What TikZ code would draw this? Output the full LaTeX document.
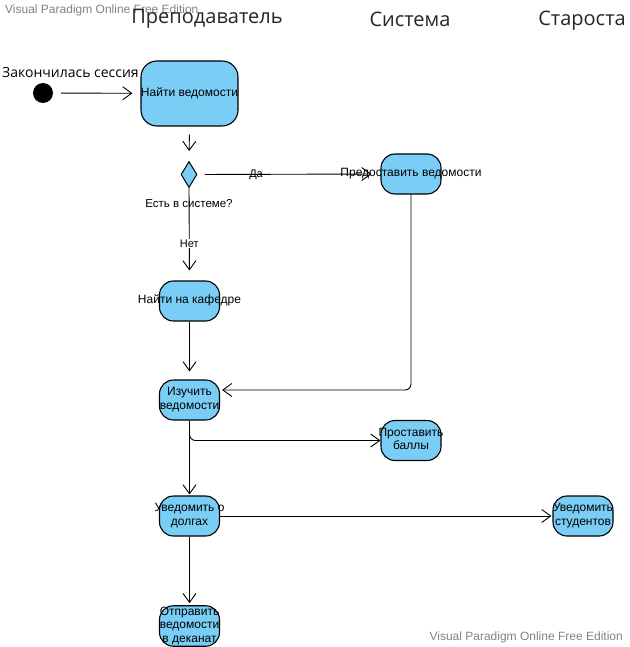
\documentclass[tikz,border=0pt]{standalone}
\usepackage{fontspec}
\setmainfont{Liberation Sans}
\newfontfamily\titlefont{Open Sans}
\usetikzlibrary{arrows.meta,shapes.geometric}
\definecolor{actfill}{RGB}{122,206,245}
\definecolor{wmgray}{RGB}{130,130,130}
\newcommand{\ovtext}[1]{\raisebox{-1.5pt}{\makebox[0pt][c]{\begin{tabular}{@{}c@{}}#1\end{tabular}}}}
\tikzset{
  act/.style={draw=black, fill=actfill, rounded corners=14pt, line width=1.1pt,
    inner sep=0pt, minimum width=60pt, minimum height=40pt,
    font=\fontsize{12}{13.5}\selectfont},
  bigact/.style={act, rounded corners=16pt, minimum width=97pt, minimum height=65pt},
  flow/.style={draw=black, line width=0.9pt, -{Straight Barb[length=9pt,width=13pt]}},
  lane/.style={font=\titlefont\fontsize{20}{24}\selectfont, text=black!85, inner sep=0pt},
  wm/.style={font=\fontsize{12}{14}\selectfont, text=wmgray, inner sep=0pt},
  lbl/.style={font=\fontsize{11.5}{13}\selectfont, inner sep=1pt},
  guard/.style={font=\fontsize{11}{13}\selectfont}
}
\begin{document}
\begin{tikzpicture}[x=1pt,y=-1pt]
\useasboundingbox (0,0) rectangle (629,647);
% watermarks
\node[wm, anchor=west] (wm1) at (5,10) {Visual Paradigm Online Free Edition};
\node[wm, anchor=east] (wm2) at (623,637) {Visual Paradigm Online Free Edition};
% lane titles
\node[lane] (t1) at (207,19) {Преподаватель};
\node[lane] (t2) at (410,19) {Система};
\node[lane] (t3) at (582,21) {Староста};
% start
\node[circle, fill=black, minimum size=20pt, inner sep=0pt] (start) at (43,93) {};
\node[font=\titlefont\fontsize{14}{16}\selectfont, anchor=west, inner sep=0pt] (startlbl) at (2,73) {Закончилась сессия};
% activities
\node[bigact] (find) at (189.5,93.5) {\ovtext{Найти ведомости}};
\node[diamond, draw=black, fill=actfill, line width=1pt, inner sep=0pt, minimum width=16pt, minimum height=26pt] (dec) at (189,174.5) {};
\node[lbl] (declbl) at (189,203.5) {Есть в системе?};
\node[act] (prov) at (411,174) {\ovtext{Предоставить ведомости}};
\node[act] (kaf) at (189.5,301) {\ovtext{Найти на кафедре}};
\node[act] (izu) at (189.5,400) {\ovtext{Изучить\\ведомости}};
\node[act] (ball) at (411,440.5) {\ovtext{Проставить\\баллы}};
\node[act] (uved) at (189.5,516) {\ovtext{Уведомить о\\долгах}};
\node[act] (stud) at (583,516) {\ovtext{Уведомить\\студентов}};
\node[act] (otp) at (189.5,626) {\ovtext{Отправить\\ведомости\\в деканат}};
% connectors
\draw[flow, shorten <=8pt, shorten >=8pt] (start) -- (find);
\draw[flow, shorten <=8pt, shorten >=10pt] (find.south) -- (dec.north);
\draw[flow, shorten <=7pt, shorten >=9pt] (dec.east) -- node[pos=0.32, guard, inner sep=0pt] (da) {Да} (prov.west);
\draw[flow, shorten >=10pt] (dec.south) -- node[pos=0.6, fill=white, guard, inner sep=1pt] (net) {Нет} (kaf.north);
\draw[flow, shorten >=8pt] (kaf.south) -- (izu.north);
\draw[flow, rounded corners=6pt, shorten >=2pt] (prov.south) |- (izu.east |- 0,390);
\draw[flow, rounded corners=6pt] (izu.south) |- (ball.west);
\draw[flow, shorten >=1pt] (izu.south) -- (uved.north);
\draw[flow, shorten >=1pt] (uved.east) -- (stud.west);
\draw[flow, shorten >=2pt] (uved.south) -- (otp.north);
\end{tikzpicture}
\end{document}
